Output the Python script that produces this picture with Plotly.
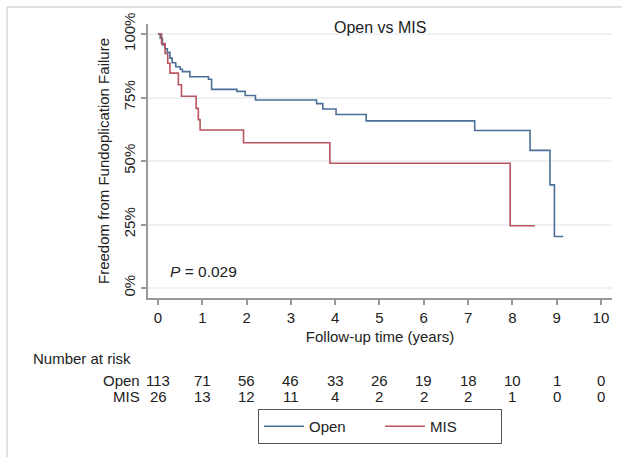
import plotly.graph_objects as go

# ---- data ----
open_t = [0, 0.05, 0.10, 0.16, 0.21, 0.27, 0.32, 0.40, 0.50, 0.55, 0.72, 1.14, 1.21, 1.78, 1.97, 2.20,
          3.58, 3.72, 4.02, 4.70, 7.15, 8.40, 8.85, 8.95, 9.15]
open_s = [100, 98.3, 95.7, 94.2, 92.8, 90.5, 88.7, 87.1, 86.1, 85.2, 83.2, 82.2, 78.2, 77.4, 75.8, 74.0,
          72.6, 70.5, 68.3, 65.8, 62.0, 54.2, 40.6, 20.3, 20.3]

mis_t = [0, 0.08, 0.16, 0.22, 0.27, 0.46, 0.53, 0.86, 0.91, 0.95, 1.93, 3.88, 7.95, 8.51]
mis_s = [100, 96.2, 92.3, 88.5, 84.6, 80.0, 75.5, 70.7, 66.3, 62.2, 57.2, 49.1, 24.5, 24.5]

risk_times = [0, 1, 2, 3, 4, 5, 6, 7, 8, 9, 10]
risk_open = [113, 71, 56, 46, 33, 26, 19, 18, 10, 1, 0]
risk_mis = [26, 13, 12, 11, 4, 2, 2, 2, 1, 0, 0]

y_ticks = [0, 25, 50, 75, 100]
y_ticklabels = ["0%", "25%", "50%", "75%", "100%"]

FONT = "Arial, Liberation Sans, sans-serif"
TXT = "#222222"
BLUE = "#4b6f97"
RED = "#b8545e"

fig = go.Figure()
fig.add_trace(go.Scatter(x=open_t, y=open_s, mode="lines", line=dict(shape="hv", color=BLUE, width=1.6),
                         name="Open"))
fig.add_trace(go.Scatter(x=mis_t, y=mis_s, mode="lines", line=dict(shape="hv", color=RED, width=1.6),
                         name="MIS"))

ann = []
def ypx(py):
    return (298 - py) / 274.0

def xpx(px):
    return (px - 148) / 464.0

ann.append(dict(text="Number at risk", xref="paper", yref="paper", x=xpx(31), y=ypx(358),
                xanchor="left", yanchor="middle", showarrow=False, font=dict(size=15, color=TXT, family=FONT)))
ann.append(dict(text="Open", xref="paper", yref="paper", x=xpx(142), y=ypx(380),
                xanchor="right", yanchor="middle", showarrow=False, font=dict(size=15, color=TXT, family=FONT)))
ann.append(dict(text="MIS", xref="paper", yref="paper", x=xpx(142), y=ypx(396),
                xanchor="right", yanchor="middle", showarrow=False, font=dict(size=15, color=TXT, family=FONT)))
for t, a, b in zip(risk_times, risk_open, risk_mis):
    ann.append(dict(text=str(a), xref="x", yref="paper", x=t, y=ypx(380), xanchor="center", yanchor="middle",
                    showarrow=False, font=dict(size=15, color=TXT, family=FONT)))
    ann.append(dict(text=str(b), xref="x", yref="paper", x=t, y=ypx(396), xanchor="center", yanchor="middle",
                    showarrow=False, font=dict(size=15, color=TXT, family=FONT)))
ann.append(dict(text="<i>P</i> = 0.029", xref="x", yref="y", x=0.22, y=6.5, xanchor="left", yanchor="middle",
                showarrow=False, font=dict(size=15.5, color=TXT, family=FONT)))
ann.append(dict(text="Open vs MIS", xref="paper", yref="paper", x=xpx(380), y=ypx(27),
                xanchor="center", yanchor="middle", showarrow=False, font=dict(size=16, color=TXT, family=FONT)))

fig.update_layout(
    width=622, height=457,
    margin=dict(l=148, r=10, t=24, b=159, autoexpand=False),
    paper_bgcolor="white", plot_bgcolor="white",
    font=dict(family=FONT, size=15, color=TXT),
    annotations=ann,
    showlegend=True,
    legend=dict(orientation="h", x=xpx(380), xanchor="center", y=ypx(409), yanchor="top",
                bordercolor="#555555", borderwidth=1, font=dict(size=15, color=TXT, family=FONT),
                entrywidth=66, itemwidth=40, bgcolor="white"),
    shapes=[
        dict(type="line", xref="paper", yref="paper", x0=xpx(7), x1=xpx(7),
             y0=ypx(7), y1=ypx(457), line=dict(color="#d8d8d8", width=1.5)),
        dict(type="line", xref="paper", yref="paper", x0=xpx(7), x1=xpx(622),
             y0=ypx(7), y1=ypx(7), line=dict(color="#d8d8d8", width=1.5)),
    ],
)

fig.update_xaxes(range=[-0.226, 10.25], tickvals=risk_times, showgrid=False, zeroline=False,
                 showline=True, linecolor="#999999", linewidth=2,
                 ticks="outside", ticklen=5, tickcolor="#999999", tickwidth=1.5,
                 tickfont=dict(size=15, color=TXT, family=FONT),
                 title=dict(text="Follow-up time (years)", standoff=6, font=dict(size=15, color=TXT, family=FONT)))
fig.update_yaxes(range=[-3.94, 103.94], tickvals=y_ticks, ticktext=y_ticklabels, tickangle=-90,
                 showgrid=True, gridcolor="#eef2f4", gridwidth=1.5, zeroline=False,
                 showline=True, linecolor="#999999", linewidth=2,
                 ticks="outside", ticklen=5, tickcolor="#999999", tickwidth=1.5,
                 tickfont=dict(size=15, color=TXT, family=FONT),
                 title=dict(text="Freedom from Fundoplication Failure", standoff=8,
                            font=dict(size=15, color=TXT, family=FONT)))

fig.write_html("out.html", config={"displayModeBar": False},
               post_script="document.body.style.margin='0';document.body.style.overflow='hidden';")
